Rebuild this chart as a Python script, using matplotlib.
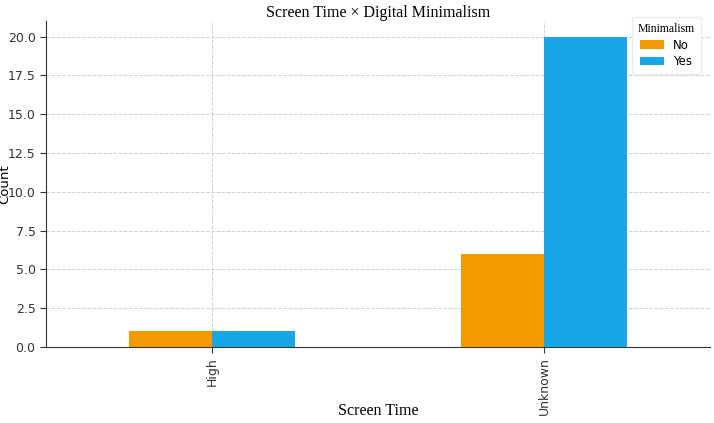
import matplotlib
matplotlib.use("Agg")
import matplotlib.pyplot as plt
import numpy as np

categories = ["High", "Unknown"]
series_names = ["No", "Yes"]
no_vals = [1, 6]
yes_vals = [1, 20]
colors = ["#F29A00", "#17A6E6"]

fig = plt.figure(figsize=(7.14, 4.23), dpi=100)
ax = fig.add_axes([46/714, 1-347/423, 664/714, 326/423])

x = np.arange(len(categories))
w = 0.25
ax.bar(x - w/2, no_vals, w, color=colors[0], label=series_names[0], zorder=3)
ax.bar(x + w/2, yes_vals, w, color=colors[1], label=series_names[1], zorder=3)

ax.set_xlim(-0.5, 1.5)
ax.set_ylim(0, 21)
yt = np.arange(0, 20.1, 2.5)
ax.set_yticks(yt)
ax.set_yticklabels([f"{v:.1f}" for v in yt], fontsize=9, color="#333333")
ax.set_xticks(x)
ax.set_xticklabels(categories, rotation=90, fontsize=9, color="#333333")
ax.tick_params(axis="both", length=4, color="#333333")

ax.grid(True, linestyle="--", color="#d0d0d0", linewidth=0.7, zorder=0)
ax.set_axisbelow(True)
for s in ["top", "right"]:
    ax.spines[s].set_visible(False)
for s in ["left", "bottom"]:
    ax.spines[s].set_color("#333333")

ax.set_title("Screen Time × Digital Minimalism", fontfamily="Liberation Serif", fontsize=11.5, pad=1.5)
ax.set_xlabel("Screen Time", fontfamily="Liberation Serif", fontsize=11.5)
ax.xaxis.set_label_coords(0.5, -0.172)
ax.set_ylabel("Count", fontsize=9.5)
ax.yaxis.set_label_coords(-0.053, 0.5)

leg = ax.legend(title="Minimalism", loc="upper right", fontsize=8.5,
                title_fontproperties={"family": "Liberation Serif", "size": 8.5},
                frameon=True, bbox_to_anchor=(0.995, 1.03), labelspacing=0.3,
                handlelength=2.0, borderpad=0.5)
leg.get_frame().set_edgecolor("#e6e6e6")

fig.savefig("out.png", dpi=100)
